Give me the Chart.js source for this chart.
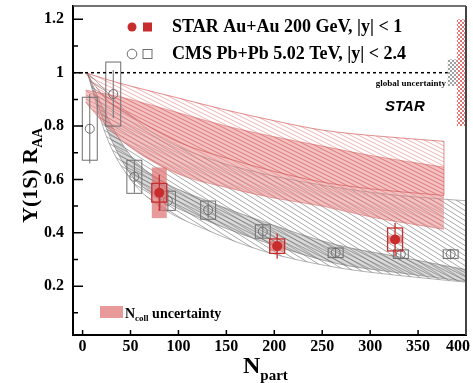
<!DOCTYPE html>
<html>
<head>
<meta charset="utf-8">
<script src="https://cdn.jsdelivr.net/npm/chart.js@4.4.1/dist/chart.umd.min.js"></script>
<style>
html, body { margin: 0; padding: 0; background: #fff; }
#wrap { width: 473px; height: 383px; }
</style>
</head>
<body>
<div id="wrap"><canvas id="raaChart" width="473" height="383"></canvas></div>
<script>
// STAR Au+Au 200 GeV, |y| < 1
const starNpart = [80, 203, 326];
const starRaa = [0.55, 0.35, 0.375];
const starStat = [0.068, 0.047, 0.062];
const starSys = [0.035, 0.027, 0.043];
const starNcoll = [0.095, 0.02, 0.015];

// CMS Pb+Pb 5.02 TeV, |y| < 2.4
const cmsNpart = [7.5, 32, 54, 89, 131, 188, 264, 332, 384];
const cmsRaa = [0.79, 0.92, 0.61, 0.52, 0.485, 0.405, 0.325, 0.32, 0.32];
const cmsStat = [0.13, 0.09, 0.06, 0.04, 0.03, 0.025, 0.02, 0.02, 0.02];
const cmsSys = [0.118, 0.12, 0.062, 0.036, 0.034, 0.025, 0.018, 0.016, 0.016];

// global uncertainties around RAA = 1
const starGlobal = 0.2;
const cmsGlobal = 0.05;

// model bands for 200 GeV
const starBandNpart = [3, 25, 50, 100, 150, 200, 250, 300, 377];
const starHatchHi = [1.0, 0.975, 0.95, 0.905, 0.86, 0.82, 0.785, 0.765, 0.743];
const starHatchLo = [1.0, 0.90, 0.84, 0.74, 0.68, 0.63, 0.59, 0.565, 0.54];
const starFillHi = [0.935, 0.92, 0.9, 0.85, 0.8, 0.76, 0.725, 0.69, 0.646];
const starFillLo = [0.89, 0.8, 0.72, 0.62, 0.57, 0.53, 0.5, 0.46, 0.413];

// model bands for 5.02 TeV
const cmsBandNpart = [5, 25, 50, 80, 130, 190, 265, 330, 400];
const cmsHatchHi = [1.0, 0.93, 0.84, 0.76, 0.68, 0.62, 0.57, 0.54, 0.52];
const cmsHatchLo = [1.0, 0.76, 0.60, 0.50, 0.41, 0.33, 0.27, 0.24, 0.215];
const cmsFillHi = [1.0, 0.84, 0.69, 0.6, 0.52, 0.44, 0.355, 0.31, 0.262];
const cmsFillLo = [1.0, 0.79, 0.62, 0.53, 0.445, 0.365, 0.285, 0.25, 0.218];

// axis ticks
const xTicks = [0, 50, 100, 150, 200, 250, 300, 350, 400];
const xTickLabels = ['0', '50', '100', '150', '200', '250', '300', '350', '400'];
const yTicks = [0.2, 0.4, 0.6, 0.8, 1, 1.2];
const yTickLabels = ['0.2', '0.4', '0.6', '0.8', '1', '1.2'];
const yMinorTicks = [0.1, 0.3, 0.5, 0.7, 0.9, 1.1];

const RED = 'rgb(200, 45, 45)';
const GRAY = 'rgb(110, 110, 110)';
const SERIF = '"Liberation Serif", "Times New Roman", serif';
const BOX_HALF = 7.8; // half width of systematic boxes, in Npart

function hatch(w, h, bg, stroke, lw) {
    const c = document.createElement('canvas');
    c.width = w; c.height = h;
    const g = c.getContext('2d');
    if (bg) { g.fillStyle = bg; g.fillRect(0, 0, w, h); }
    g.strokeStyle = stroke;
    g.lineWidth = lw;
    g.beginPath();
    for (let k = -2; k <= 2; k++) {
        g.moveTo(-w, -h + k * h);
        g.lineTo(2 * w, 2 * h + k * h);
    }
    g.stroke();
    return g.createPattern(c, 'repeat');
}

function checker(color) {
    const c = document.createElement('canvas');
    c.width = 4; c.height = 4;
    const g = c.getContext('2d');
    g.fillStyle = '#fff'; g.fillRect(0, 0, 4, 4);
    g.fillStyle = color;
    g.fillRect(0, 0, 2, 2);
    g.fillRect(2, 2, 2, 2);
    return g.createPattern(c, 'repeat');
}

const ctx = document.getElementById('raaChart').getContext('2d');

function pts(xs, ys) {
    return xs.map((x, i) => ({ x: x, y: ys[i] }));
}

function band(npart, lo, hi, pattern, edge, order) {
    const base = { showLine: true, pointRadius: 0, borderColor: edge, borderWidth: 0.8,
        cubicInterpolationMode: 'monotone', order: order };
    return [
        Object.assign({}, base, { data: pts(npart, lo), fill: false }),
        Object.assign({}, base, { data: pts(npart, hi), fill: '-1', backgroundColor: pattern })
    ];
}

const datasets = [].concat(
    band(cmsBandNpart, cmsHatchLo, cmsHatchHi, hatch(8, 5, null, 'rgba(120,120,120,0.8)', 0.8), 'rgba(120,120,120,0.7)', 5),
    band(cmsBandNpart, cmsFillLo, cmsFillHi, hatch(8, 4, 'rgba(150,150,150,0.35)', 'rgba(100,100,100,0.7)', 0.8), 'rgba(110,110,110,0.7)', 4),
    band(starBandNpart, starFillLo, starFillHi, hatch(8, 4, 'rgba(232,135,135,0.5)', 'rgba(215,95,95,0.55)', 0.8), 'rgba(215,100,100,0.7)', 3),
    band(starBandNpart, starHatchLo, starHatchHi, hatch(8, 4, null, 'rgba(220,100,100,0.6)', 0.8), 'rgba(210,80,80,0.8)', 2)
);

const cmsIndex = datasets.length;
datasets.push({
    data: pts(cmsNpart, cmsRaa), showLine: false, order: 1,
    pointStyle: 'circle', pointRadius: 4.5, pointBorderWidth: 1,
    pointBorderColor: GRAY, pointBackgroundColor: 'rgba(255,255,255,0)'
});
const starIndex = datasets.length;
datasets.push({
    data: pts(starNpart, starRaa), showLine: false, order: 0,
    pointStyle: 'circle', pointRadius: 5, pointBorderWidth: 0,
    pointBorderColor: RED, pointBackgroundColor: RED
});

function box(x, y, npart, lo, hi) {
    const l = x.getPixelForValue(npart - BOX_HALF), r = x.getPixelForValue(npart + BOX_HALF);
    const t = y.getPixelForValue(hi), b = y.getPixelForValue(lo);
    return [l, t, r - l, b - t];
}

function line(g, x1, y1, x2, y2) {
    g.beginPath();
    g.moveTo(x1, y1);
    g.lineTo(x2, y2);
    g.stroke();
}

const decorations = {
    id: 'decorations',
    beforeDatasetDraw(chart, args) {
        const g = chart.ctx, x = chart.scales.x, y = chart.scales.y;
        g.save();
        if (args.index === cmsIndex) {
            g.strokeStyle = GRAY;
            g.lineWidth = 1;
            cmsNpart.forEach((n, i) => {
                const px = x.getPixelForValue(n);
                g.strokeRect(...box(x, y, n, cmsRaa[i] - cmsSys[i], cmsRaa[i] + cmsSys[i]));
                line(g, px, y.getPixelForValue(cmsRaa[i] + cmsStat[i]), px, y.getPixelForValue(cmsRaa[i] - cmsStat[i]));
            });
        }
        if (args.index === starIndex) {
            starNpart.forEach((n, i) => {
                const px = x.getPixelForValue(n);
                g.fillStyle = 'rgba(222,110,110,0.7)';
                g.fillRect(...box(x, y, n, starRaa[i] - starNcoll[i], starRaa[i] + starNcoll[i]));
                g.strokeStyle = RED;
                g.lineWidth = 1.3;
                g.strokeRect(...box(x, y, n, starRaa[i] - starSys[i], starRaa[i] + starSys[i]));
                line(g, px, y.getPixelForValue(starRaa[i] + starStat[i]), px, y.getPixelForValue(starRaa[i] - starStat[i]));
            });
        }
        g.restore();
    },
    afterDraw(chart) {
        const g = chart.ctx, x = chart.scales.x, y = chart.scales.y, a = chart.chartArea;
        g.save();

        // close the right end of the hatched 200 GeV band
        const last = starBandNpart.length - 1;
        g.strokeStyle = 'rgba(210,80,80,0.8)';
        g.lineWidth = 0.8;
        const ex = x.getPixelForValue(starBandNpart[last]);
        line(g, ex, y.getPixelForValue(starHatchHi[last]), ex, y.getPixelForValue(starHatchLo[last]));

        // unity line
        g.strokeStyle = '#000';
        g.lineWidth = 1.5;
        g.setLineDash([3, 3]);
        line(g, a.left, y.getPixelForValue(1), a.right, y.getPixelForValue(1));
        g.setLineDash([]);

        // global uncertainty boxes
        g.fillStyle = checker('rgb(160,160,160)');
        let l = x.getPixelForValue(381), r = x.getPixelForValue(390.5);
        let t = y.getPixelForValue(1 + cmsGlobal), b = y.getPixelForValue(1 - cmsGlobal);
        g.fillRect(l, t, r - l, b - t);
        g.fillStyle = checker('rgb(225,120,120)');
        l = r; r = x.getPixelForValue(399);
        t = y.getPixelForValue(1 + starGlobal); b = y.getPixelForValue(1 - starGlobal);
        g.fillRect(l, t, r - l, b - t);

        g.fillStyle = '#000';
        g.textBaseline = 'alphabetic';
        g.textAlign = 'right';
        g.font = 'bold 9px ' + SERIF;
        g.fillText('global uncertainty', 446, 86);
        g.textAlign = 'left';
        g.font = 'italic bold 15px "Liberation Sans", Arial, sans-serif';
        g.fillText('STAR', 385, 111);

        // legend
        g.fillStyle = RED;
        g.beginPath(); g.arc(132, 27, 4.5, 0, Math.PI * 2); g.fill();
        g.fillRect(143, 22.5, 9, 9);
        g.strokeStyle = GRAY;
        g.lineWidth = 1;
        g.beginPath(); g.arc(132, 54, 4.8, 0, Math.PI * 2); g.stroke();
        g.strokeRect(143, 49.5, 9, 9);
        g.fillStyle = '#000';
        g.font = 'bold 18px ' + SERIF;
        g.fillText('STAR Au+Au 200 GeV, |y| < 1', 172, 32);
        g.fillText('CMS Pb+Pb 5.02 TeV, |y| < 2.4', 172, 59);

        // Ncoll legend
        g.fillStyle = 'rgba(222,110,110,0.7)';
        g.fillRect(100, 306, 23, 12);
        g.fillStyle = '#000';
        g.font = 'bold 14px ' + SERIF;
        g.fillText('N', 125, 318);
        let w = g.measureText('N').width;
        g.font = 'bold 9px ' + SERIF;
        g.fillText('coll', 125 + w, 321);
        w += g.measureText('coll').width;
        g.font = 'bold 14px ' + SERIF;
        g.fillText(' uncertainty', 125 + w, 318);

        // x tick labels, kept inside the canvas at the right edge
        g.font = 'bold 16px ' + SERIF;
        g.textAlign = 'center';
        g.textBaseline = 'middle';
        xTicks.forEach((v, i) => {
            const tw = g.measureText(xTickLabels[i]).width;
            const cx = Math.min(x.getPixelForValue(v), chart.width - tw / 2 - 3);
            g.fillText(xTickLabels[i], cx, a.bottom + 12);
        });
        g.textAlign = 'left';
        g.textBaseline = 'alphabetic';

        // axis titles
        g.font = 'bold 24px ' + SERIF;
        g.fillText('N', 243, 373);
        w = g.measureText('N').width;
        g.font = 'bold 15px ' + SERIF;
        g.fillText('part', 243 + w, 380);

        g.save();
        g.translate(37, 223);
        g.rotate(-Math.PI / 2);
        g.font = 'bold 22px ' + SERIF;
        g.fillText('\u03A5(1S) R', 0, 0);
        w = g.measureText('\u03A5(1S) R').width;
        g.font = 'bold 14px ' + SERIF;
        g.fillText('AA', w, 5);
        g.restore();

        // inward tick marks
        g.strokeStyle = '#000';
        g.lineWidth = 1.5;
        g.beginPath();
        yTicks.forEach(v => { const p = y.getPixelForValue(v); g.moveTo(a.left, p); g.lineTo(a.left + 10, p); });
        yMinorTicks.forEach(v => { const p = y.getPixelForValue(v); g.moveTo(a.left, p); g.lineTo(a.left + 5, p); });
        xTicks.forEach(v => { const p = x.getPixelForValue(v); g.moveTo(p, a.bottom); g.lineTo(p, a.bottom - 5); });
        g.stroke();

        // frame top and right
        g.strokeStyle = '#444';
        g.lineWidth = 1.5;
        line(g, a.left, a.top, a.right, a.top);
        g.lineWidth = 2;
        line(g, a.right, a.top, a.right, a.bottom);
        g.restore();
    }
};

new Chart(ctx, {
    type: 'line',
    data: { datasets: datasets },
    options: {
        responsive: false,
        animation: false,
        events: [],
        layout: { padding: { top: 6, right: 7, left: 0, bottom: 0 } },
        plugins: { legend: { display: false }, tooltip: { enabled: false } },
        scales: {
            x: {
                type: 'linear', min: -10, max: 400,
                grid: { display: false, drawTicks: false },
                border: { display: true, color: '#000', width: 2 },
                ticks: { display: false },
                afterBuildTicks: s => { s.ticks = xTicks.map(v => ({ value: v })); },
                afterFit: s => { s.height = 48; s.paddingLeft = 0; s.paddingRight = 0; }
            },
            y: {
                type: 'linear', min: 0.017, max: 1.25,
                grid: { display: false, drawTicks: false },
                border: { display: true, color: '#000', width: 2 },
                ticks: { color: '#000', padding: 9, font: { family: SERIF, size: 16, weight: 'bold' },
                    callback: (v, i) => yTickLabels[i] },
                afterBuildTicks: s => { s.ticks = yTicks.map(v => ({ value: v })); },
                afterFit: s => { s.width = 73; s.paddingTop = 0; s.paddingBottom = 0; }
            }
        }
    },
    plugins: [decorations]
});
</script>
</body>
</html>
